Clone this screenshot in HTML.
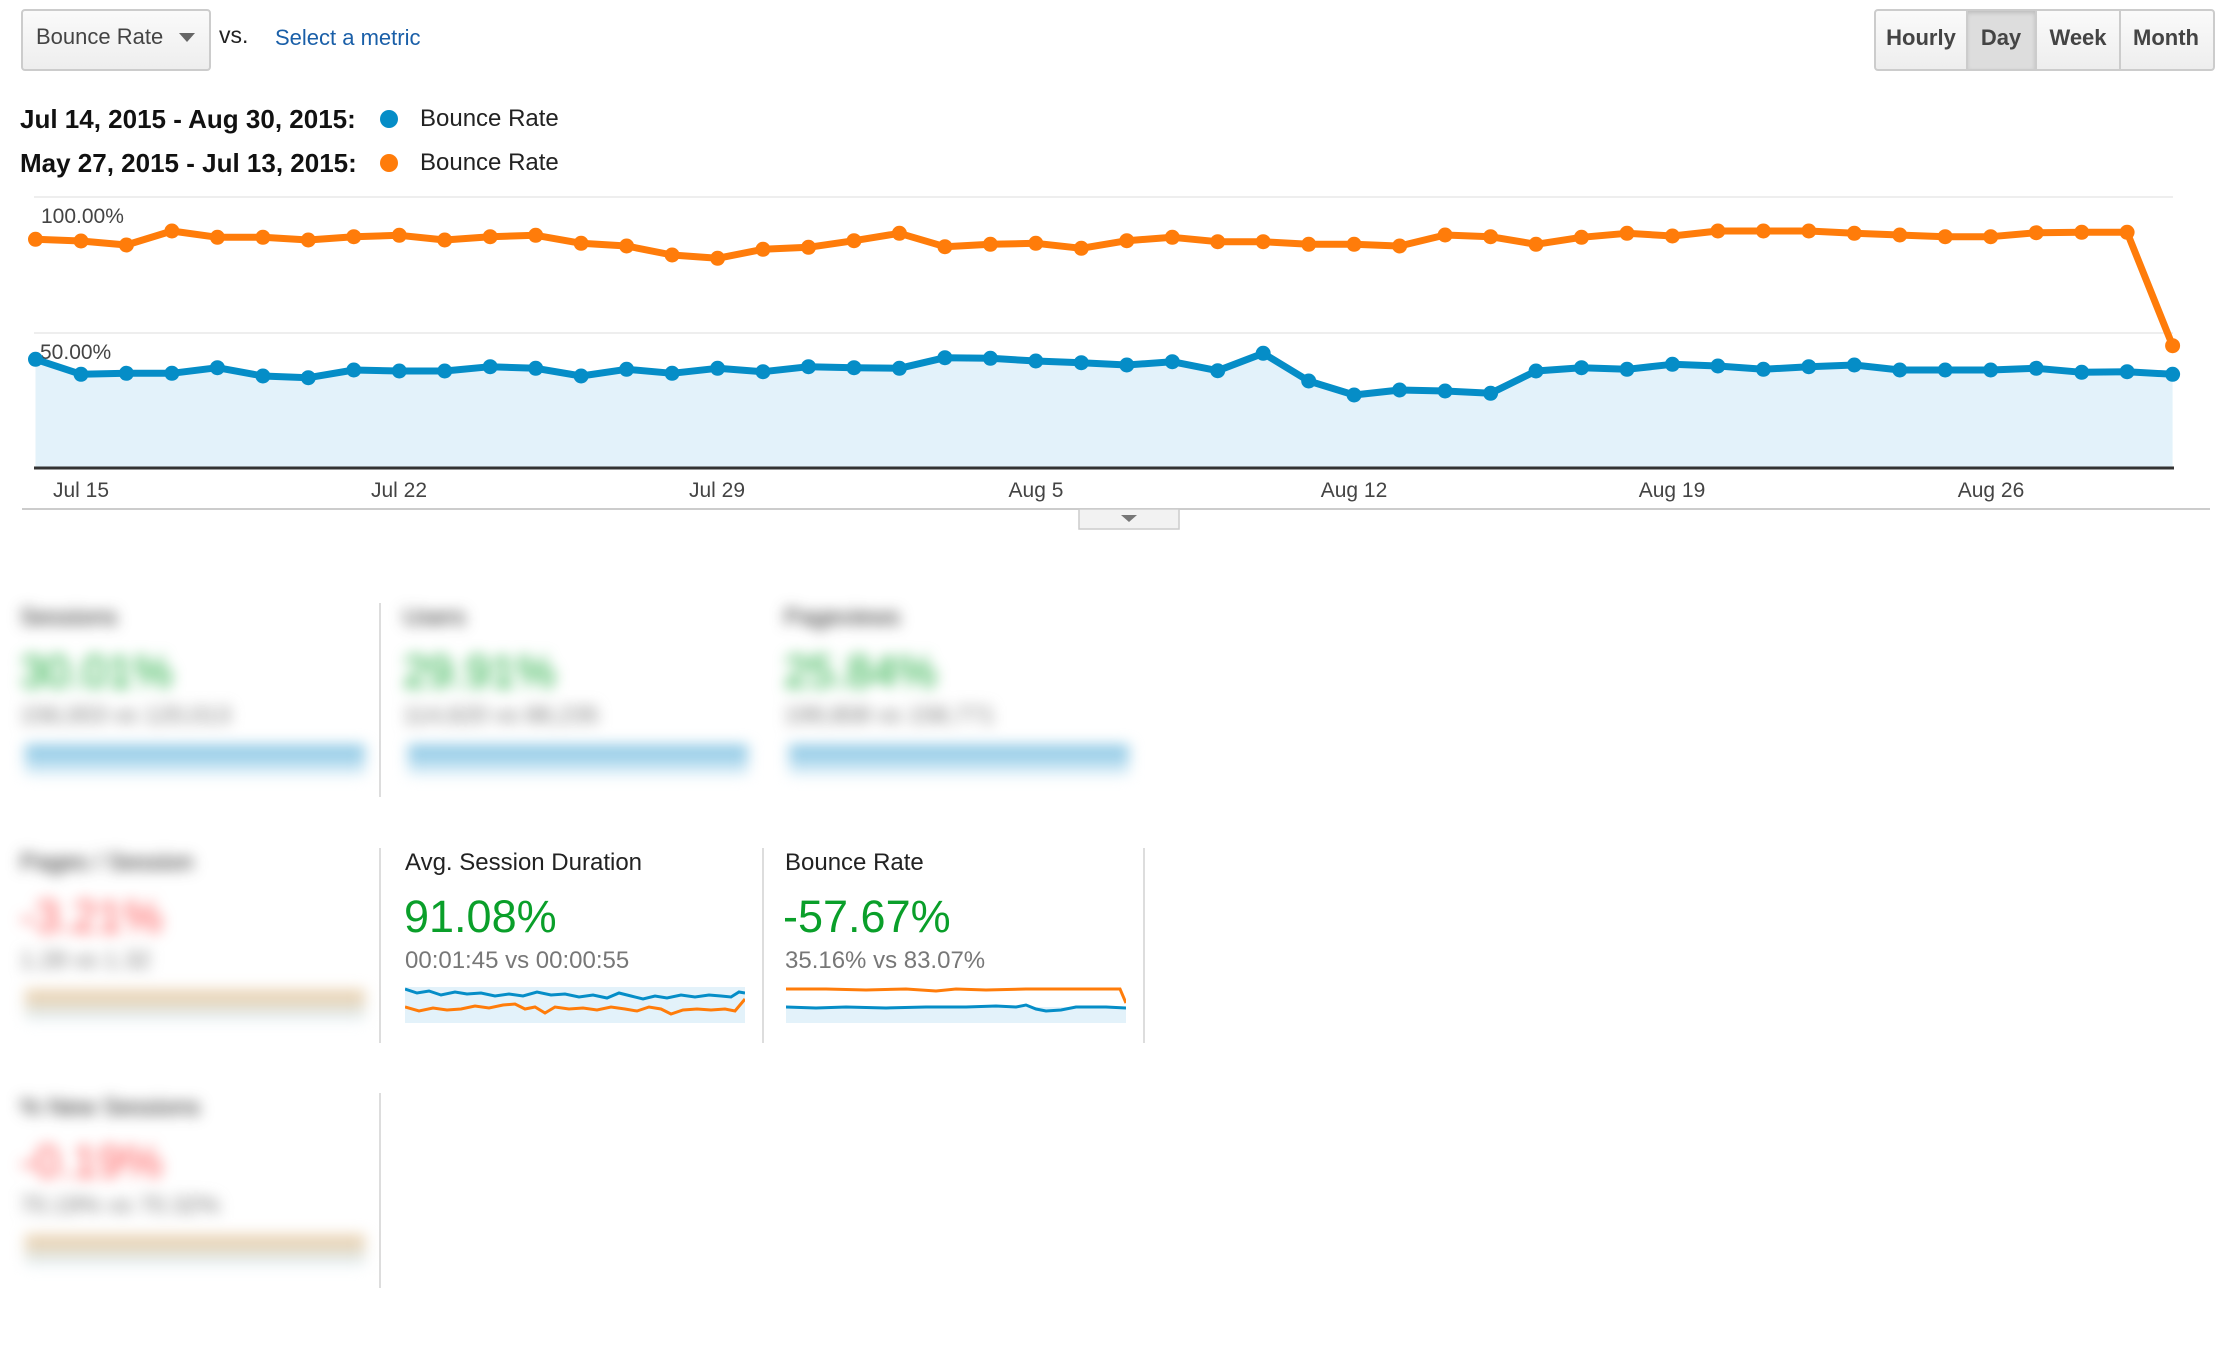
<!DOCTYPE html>
<html><head><meta charset="utf-8"><style>
body{margin:0;width:2240px;height:1370px;background:#fff;font-family:"Liberation Sans",sans-serif;position:relative;overflow:hidden}
.a{position:absolute;white-space:nowrap}
.btn{position:absolute;top:9px;height:58px;border:2px solid #ccc;border-radius:4px;background:linear-gradient(#fafafa,#eee)}
.bt{position:absolute;top:9px;height:58px;line-height:58px;font-size:22px;font-weight:bold;color:#444;text-align:center}
.blur{filter:blur(7px)}
.t{font-size:24px;color:#222}
.big{font-size:45px}
.sub{font-size:24px;color:#777}
.vl{position:absolute;width:2px;background:#ddd}
</style></head><body>
<div class="btn" style="left:21px;width:186px"></div>
<div class="a" style="left:36px;top:24px;font-size:22px;color:#444">Bounce Rate</div>
<svg class="a" style="left:179px;top:33px" width="16" height="10"><polygon points="0,0 16,0 8,9" fill="#666"/></svg>
<div class="a" style="left:219px;top:22px;font-size:23px;color:#222">vs.</div>
<div class="a" style="left:275px;top:25px;font-size:22px;color:#1a5fa8">Select a metric</div>

<div class="btn" style="left:1874px;width:337px"></div>
<div class="a" style="left:1967px;top:11px;width:68px;height:58px;background:#ddd;box-shadow:inset 0 2px 4px rgba(0,0,0,.15)"></div>
<div class="a" style="left:1966px;top:11px;width:2px;height:58px;background:#ccc"></div>
<div class="a" style="left:2035px;top:11px;width:2px;height:58px;background:#ccc"></div>
<div class="a" style="left:2119px;top:11px;width:2px;height:58px;background:#ccc"></div>
<div class="bt" style="left:1876px;width:90px">Hourly</div>
<div class="bt" style="left:1967px;width:68px">Day</div>
<div class="bt" style="left:2037px;width:82px">Week</div>
<div class="bt" style="left:2121px;width:90px">Month</div>

<div class="a" style="left:20px;top:104px;font-size:26px;font-weight:bold;color:#111">Jul 14, 2015 - Aug 30, 2015:</div>
<div class="a" style="left:20px;top:148px;font-size:26px;font-weight:bold;color:#111">May 27, 2015 - Jul 13, 2015:</div>
<div class="a" style="left:380px;top:110px;width:18px;height:18px;border-radius:50%;background:#058dc7"></div>
<div class="a" style="left:380px;top:154px;width:18px;height:18px;border-radius:50%;background:#ff7c0a"></div>
<div class="a" style="left:420px;top:105px;font-size:24px;color:#222">Bounce Rate</div>
<div class="a" style="left:420px;top:149px;font-size:24px;color:#222">Bounce Rate</div>

<svg class="a" style="left:0;top:0" width="2240" height="560">
<defs>
<marker id="mb" markerUnits="userSpaceOnUse" markerWidth="20" markerHeight="20" refX="10" refY="10"><circle cx="10" cy="10" r="7.5" fill="#058dc7"/></marker>
<marker id="mo" markerUnits="userSpaceOnUse" markerWidth="20" markerHeight="20" refX="10" refY="10"><circle cx="10" cy="10" r="7.5" fill="#ff7c0a"/></marker>
</defs>
<line x1="34" y1="197" x2="2173" y2="197" stroke="#eee" stroke-width="2"/>
<line x1="34" y1="333" x2="2173" y2="333" stroke="#eee" stroke-width="2"/>
<text x="41" y="223" font-size="21" fill="#444" font-family="Liberation Sans">100.00%</text>
<text x="40" y="359" font-size="21" fill="#444" font-family="Liberation Sans">50.00%</text>
<polygon fill="#e3f2fa" points="35.5,468 35.5,359.3 81,374.3 126.4,373.3 171.9,373.3 217.4,367.7 262.9,376 308.3,377.7 353.8,370 399.3,371 444.7,371 490.2,366.7 535.7,368.3 581.1,376 626.6,369.3 672.1,373.3 717.6,368.3 763,371.7 808.5,366.7 854,367.7 899.4,368.3 944.9,357.7 990.4,358.3 1035.8,361 1081.3,362.7 1126.8,365 1172.3,361.7 1217.7,370.7 1263.2,353.3 1308.7,381 1354.1,395 1399.6,390 1445.1,391 1490.6,393.3 1536,371 1581.5,367.7 1627,369.3 1672.4,364.3 1717.9,366 1763.4,369.3 1808.8,366.7 1854.3,365 1899.8,370 1945.2,370 1990.7,370 2036.2,368.3 2081.7,372.3 2127.1,371.7 2172.6,374.3 2172.6,468"/>
<polyline fill="none" stroke="#058dc7" stroke-width="7" stroke-linejoin="round" marker-start="url(#mb)" marker-mid="url(#mb)" marker-end="url(#mb)" points="35.5,359.3 81,374.3 126.4,373.3 171.9,373.3 217.4,367.7 262.9,376 308.3,377.7 353.8,370 399.3,371 444.7,371 490.2,366.7 535.7,368.3 581.1,376 626.6,369.3 672.1,373.3 717.6,368.3 763,371.7 808.5,366.7 854,367.7 899.4,368.3 944.9,357.7 990.4,358.3 1035.8,361 1081.3,362.7 1126.8,365 1172.3,361.7 1217.7,370.7 1263.2,353.3 1308.7,381 1354.1,395 1399.6,390 1445.1,391 1490.6,393.3 1536,371 1581.5,367.7 1627,369.3 1672.4,364.3 1717.9,366 1763.4,369.3 1808.8,366.7 1854.3,365 1899.8,370 1945.2,370 1990.7,370 2036.2,368.3 2081.7,372.3 2127.1,371.7 2172.6,374.3"/>
<polyline fill="none" stroke="#ff7c0a" stroke-width="7" stroke-linejoin="round" marker-start="url(#mo)" marker-mid="url(#mo)" marker-end="url(#mo)" points="35.5,239.3 81,241 126.4,245 171.9,231 217.4,237.3 262.9,237.3 308.3,240 353.8,236.7 399.3,235.3 444.7,240 490.2,236.7 535.7,235.3 581.1,243.3 626.6,246 672.1,255 717.6,258.3 763,249.3 808.5,247.3 854,240.7 899.4,233.3 944.9,246.7 990.4,244.3 1035.8,243.3 1081.3,248.3 1126.8,240.7 1172.3,237.3 1217.7,241.7 1263.2,241.7 1308.7,244.3 1354.1,244.3 1399.6,246 1445.1,235 1490.6,236.7 1536,244.3 1581.5,237.3 1627,233.3 1672.4,236 1717.9,231 1763.4,231 1808.8,231 1854.3,233.3 1899.8,235 1945.2,236.7 1990.7,236.7 2036.2,232.7 2081.7,232.3 2127.1,232.3 2172.6,345.7"/>
<line x1="34" y1="468" x2="2174" y2="468" stroke="#333" stroke-width="3"/>
<g font-family="Liberation Sans" font-size="21" fill="#444" text-anchor="middle">
<text x="81" y="497">Jul 15</text><text x="399" y="497">Jul 22</text><text x="717" y="497">Jul 29</text><text x="1036" y="497">Aug 5</text><text x="1354" y="497">Aug 12</text><text x="1672" y="497">Aug 19</text><text x="1991" y="497">Aug 26</text>
</g>
<line x1="22" y1="509" x2="2210" y2="509" stroke="#ccc" stroke-width="2"/>
<rect x="1079" y="509" width="100" height="20" fill="#f2f2f2" stroke="#ccc" stroke-width="1.5"/>
<polygon points="1121,515 1137,515 1129,522" fill="#777"/>
</svg>

<div class="vl" style="left:379px;top:603px;height:194px"></div>
<div class="vl" style="left:379px;top:848px;height:195px"></div>
<div class="vl" style="left:762px;top:848px;height:195px"></div>
<div class="vl" style="left:1143px;top:848px;height:195px"></div>
<div class="vl" style="left:379px;top:1093px;height:195px"></div>

<div class="blur">
<div class="a t" style="left:20px;top:604px">Sessions</div>
<div class="a big" style="left:20px;top:646px;color:#1aaa3a">30.01%</div>
<div class="a sub" style="left:20px;top:702px">156,003 vs 120,013</div>
<div class="a" style="left:25px;top:745px;width:340px;height:30px;background:linear-gradient(#7bbfe0,#e3f2fa)"></div>
<div class="a t" style="left:403px;top:604px">Users</div>
<div class="a big" style="left:403px;top:646px;color:#1aaa3a">29.91%</div>
<div class="a sub" style="left:403px;top:702px">114,620 vs 88,235</div>
<div class="a" style="left:408px;top:745px;width:340px;height:30px;background:linear-gradient(#7bbfe0,#e3f2fa)"></div>
<div class="a t" style="left:784px;top:604px">Pageviews</div>
<div class="a big" style="left:784px;top:646px;color:#1aaa3a">25.84%</div>
<div class="a sub" style="left:784px;top:702px">199,808 vs 158,771</div>
<div class="a" style="left:789px;top:745px;width:340px;height:30px;background:linear-gradient(#7bbfe0,#e3f2fa)"></div>
<div class="a t" style="left:20px;top:849px">Pages / Session</div>
<div class="a big" style="left:20px;top:891px;color:#f55">-3.21%</div>
<div class="a sub" style="left:20px;top:947px">1.28 vs 1.32</div>
<div class="a" style="left:25px;top:990px;width:340px;height:30px;background:linear-gradient(#e8c9a0,#e3f2fa)"></div>
<div class="a t" style="left:20px;top:1094px">% New Sessions</div>
<div class="a big" style="left:20px;top:1136px;color:#f55">-0.19%</div>
<div class="a sub" style="left:20px;top:1192px">70.19% vs 70.32%</div>
<div class="a" style="left:25px;top:1235px;width:340px;height:30px;background:linear-gradient(#e8c9a0,#e3f2fa)"></div>
</div>

<div class="a t" style="left:405px;top:849px">Avg. Session Duration</div>
<div class="a big" style="left:404px;top:891px;color:#0a9f2a">91.08%</div>
<div class="a sub" style="left:405px;top:947px">00:01:45 vs 00:00:55</div>
<svg class="a" style="left:405px;top:983px" width="340" height="42">
<polygon fill="#e3f2fa" points="0,4 340,4 340,40 0,40"/>
<polyline fill="none" stroke="#058dc7" stroke-width="3" points="0,6 12,10 24,8 36,12 50,9 62,11 76,10 90,13 104,11 118,13 132,9 146,12 160,11 174,14 188,12 202,15 214,10 226,13 238,16 250,13 262,15 276,12 290,14 304,12 316,13 326,14 334,9 340,10"/>
<polyline fill="none" stroke="#ff7c0a" stroke-width="3" points="0,24 14,28 28,25 42,27 56,26 70,23 84,25 98,22 110,21 120,26 130,24 140,30 150,24 164,26 178,25 192,27 206,24 220,26 232,28 244,24 256,26 266,31 278,27 292,26 306,27 320,26 330,28 340,16"/>
</svg>

<div class="a t" style="left:785px;top:849px">Bounce Rate</div>
<div class="a big" style="left:783px;top:891px;color:#0a9f2a">-57.67%</div>
<div class="a sub" style="left:785px;top:947px">35.16% vs 83.07%</div>
<svg class="a" style="left:786px;top:983px" width="340" height="42">
<polygon fill="#e3f2fa" points="0,24 340,24 340,40 0,40"/>
<polygon fill="#fff" points="0,6 340,6 340,24 0,24"/>
<polyline fill="none" stroke="#ff7c0a" stroke-width="3" points="0,6 40,6 80,7 120,6 150,8 170,6 200,7 240,6 280,6 320,6 334,6 340,20"/>
<polyline fill="none" stroke="#058dc7" stroke-width="3" points="0,24 30,25 60,24 100,25 140,24 180,24 210,23 230,24 240,22 250,26 260,28 275,27 290,24 320,24 340,25"/>
</svg>
</body></html>
